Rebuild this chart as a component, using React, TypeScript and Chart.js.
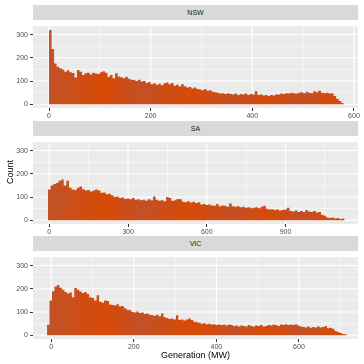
import React, { useEffect, useRef } from 'react';
import { Chart, registerables } from 'chart.js';

Chart.register(...registerables);

// ---------- data ----------
const PANEL_NAMES = ['NSW', 'SA', 'VIC'];

const NSW_BIN_START = 0;
const NSW_BIN_WIDTH = 5;
const NSW_COUNTS = [
  320, 238, 175, 162, 155, 150, 140, 146, 138, 135,
  115, 148, 140, 126, 133, 136, 128, 136, 132, 130,
  138, 142, 136, 118, 126, 112, 134, 120, 116, 112,
  118, 110, 106, 104, 100, 106, 98, 100, 92, 96,
  86, 90, 84, 88, 82, 90, 94, 86, 92, 80,
  84, 76, 86, 78, 72, 74, 68, 72, 66, 64,
  60, 66, 58, 60, 54, 52, 50, 46, 48, 44,
  48, 44, 42, 46, 40, 44, 42, 46, 40, 44,
  42, 56, 40, 42, 38, 40, 36, 40, 38, 42,
  42, 46, 44, 48, 46, 50, 48, 46, 50, 52,
  48, 54, 50, 48, 56, 52, 58, 50, 48, 50,
  46, 48, 36, 24, 14, 6,
];

const SA_BIN_START = -5;
const SA_BIN_WIDTH = 10;
const SA_COUNTS = [
  132, 150, 156, 160, 170, 176, 150, 170, 140, 132,
  130, 140, 145, 134, 128, 130, 124, 128, 132, 128,
  118, 120, 112, 114, 108, 100, 102, 96, 98, 92,
  94, 90, 96, 88, 90, 86, 88, 84, 90, 86,
  102, 88, 84, 86, 82, 100, 96, 84, 86, 92,
  90, 80, 78, 82, 76, 80, 74, 78, 68, 70,
  66, 68, 64, 62, 70, 60, 64, 62, 58, 72,
  60, 58, 60, 56, 58, 54, 56, 52, 54, 56,
  52, 58, 62, 50, 46, 48, 44, 46, 42, 44,
  46, 54, 40, 38, 42, 36, 40, 36, 44, 38,
  36, 40, 34, 36, 24, 20, 12, 10, 12, 8,
  10, 6, 8,
];

const VIC_BIN_START = -10;
const VIC_BIN_WIDTH = 6;
const VIC_COUNTS = [
  45, 150, 190, 210, 216, 205, 196, 186, 180, 184,
  164, 204, 196, 188, 182, 186, 178, 164, 160, 150,
  172, 144, 140, 150, 148, 132, 130, 128, 134, 124,
  126, 116, 110, 108, 100, 98, 102, 96, 98, 92,
  94, 88, 86, 84, 88, 82, 94, 78, 74, 70,
  72, 68, 86, 66, 68, 64, 68, 72, 66, 58,
  56, 54, 50, 52, 48, 50, 46, 48, 44, 46,
  44, 46, 42, 46, 44, 40, 42, 38, 42, 40,
  38, 44, 40, 38, 42, 40, 44, 38, 40, 44,
  42, 46, 44, 40, 46, 44, 48, 44, 46, 44,
  48, 42, 38, 36, 34, 38, 32, 36, 34, 38,
  34, 36, 40, 30, 32, 28, 18, 14, 10, 6,
  4,
];

const Y_TICKS = [0, 100, 200, 300];
const Y_MINOR = [50, 150, 250];
const NSW_X_TICKS = [0, 200, 400, 600];
const NSW_X_MINOR = [100, 300, 500];
const SA_X_TICKS = [0, 300, 600, 900];
const SA_X_MINOR = [150, 450, 750, 1050];
const VIC_X_TICKS = [0, 200, 400, 600];
const VIC_X_MINOR = [100, 300, 500, 700];

const X_TITLE = 'Generation (MW)';
const Y_TITLE = 'Count';

// ---------- styling ----------
const FONT = '"Liberation Sans", Arial, Helvetica, sans-serif';
const PANEL_LEFT = 33;
const PANEL_RIGHT = 358;
const PANEL_H = 88;
const STRIP_H = 15;
const X_AXIS_H = 14;

const PANELS = [
  { name: PANEL_NAMES[0], start: NSW_BIN_START, width: NSW_BIN_WIDTH, counts: NSW_COUNTS, xMin: -31.5, xMax: 608, major: NSW_X_TICKS, minor: NSW_X_MINOR, top: 20 },
  { name: PANEL_NAMES[1], start: SA_BIN_START, width: SA_BIN_WIDTH, counts: SA_COUNTS, xMin: -62, xMax: 1176, major: SA_X_TICKS, minor: SA_X_MINOR, top: 135.5 },
  { name: PANEL_NAMES[2], start: VIC_BIN_START, width: VIC_BIN_WIDTH, counts: VIC_COUNTS, xMin: -44, xMax: 743, major: VIC_X_TICKS, minor: VIC_X_MINOR, top: 251 },
];

const GRAD_STOPS: [number, string][] = [
  [0, '#C2512A'],
  [45, '#C05229'],
  [105, '#D84A06'],
  [140, '#C25027'],
  [190, '#D84A06'],
  [235, '#C34F25'],
  [267, '#D74A08'],
  [300, '#C34F25'],
  [335, '#D64A09'],
  [364, '#C64E22'],
];

const gridPlugin = {
  id: 'panelGrid',
  beforeDatasetsDraw(chart: any, _args: any, opts: any) {
    const { ctx, chartArea } = chart;
    const { left, right, top, bottom } = chartArea;
    const xs = chart.scales.x;
    const ys = chart.scales.y;
    ctx.save();
    ctx.fillStyle = '#EBEBEB';
    ctx.fillRect(left, top, right - left, bottom - top);
    ctx.strokeStyle = '#FFFFFF';
    const vline = (v: number, w: number) => {
      const p = xs.getPixelForValue(v);
      if (p < left || p > right) return;
      ctx.lineWidth = w;
      ctx.beginPath();
      ctx.moveTo(p, top);
      ctx.lineTo(p, bottom);
      ctx.stroke();
    };
    const hline = (v: number, w: number) => {
      const p = ys.getPixelForValue(v);
      if (p < top || p > bottom) return;
      ctx.lineWidth = w;
      ctx.beginPath();
      ctx.moveTo(left, p);
      ctx.lineTo(right, p);
      ctx.stroke();
    };
    (opts.yMinor || []).forEach((v: number) => hline(v, 0.55));
    (opts.xMinor || []).forEach((v: number) => vline(v, 0.55));
    (opts.yMajor || []).forEach((v: number) => hline(v, 1.1));
    (opts.xMajor || []).forEach((v: number) => vline(v, 1.1));
    ctx.restore();
  },
};

function Panel({ p }: { p: typeof PANELS[number] }) {
  const ref = useRef<HTMLCanvasElement | null>(null);
  useEffect(() => {
    if (!ref.current) return;
    // histogram as a step outline: each bin spans [left edge, right edge) at its count
    const data = p.counts.map((c, i) => ({ x: p.start + p.width * i, y: c }));
    data.push({ x: p.start + p.width * p.counts.length, y: 0 });
    let grad: any = null;
    const chart = new Chart(ref.current, {
      type: 'line',
      data: {
        datasets: [
          {
            data,
            stepped: 'before',
            fill: 'origin',
            backgroundColor: (c: any) => {
              if (!grad) {
                const g = c.chart.ctx.createLinearGradient(0, 0, 364, 0);
                GRAD_STOPS.forEach(([x, col]) => g.addColorStop(x / 364, col));
                grad = g;
              }
              return grad;
            },
            borderWidth: 0,
            pointRadius: 0,
            tension: 0,
          } as any,
        ],
      },
      options: {
        responsive: false,
        animation: false,
        devicePixelRatio: 1,
        layout: { padding: { left: 0, right: 364 - PANEL_RIGHT, top: 0, bottom: 0 } },
        plugins: {
          legend: { display: false },
          tooltip: { enabled: false },
          panelGrid: { xMajor: p.major, xMinor: p.minor, yMajor: Y_TICKS, yMinor: Y_MINOR },
        } as any,
        scales: {
          x: {
            type: 'linear',
            min: p.xMin,
            max: p.xMax,
            offset: false,
            afterBuildTicks: (s: any) => {
              s.ticks = p.major.map((v) => ({ value: v }));
            },
            afterFit: (s: any) => {
              s.height = X_AXIS_H;
            },
            grid: { offset: false, drawOnChartArea: false, drawTicks: true, tickLength: 3, tickColor: '#333333', tickWidth: 1 },
            border: { display: false },
            ticks: { color: '#4D4D4D', font: { size: 7, family: FONT }, padding: 1, maxRotation: 0, autoSkip: false },
          },
          y: {
            type: 'linear',
            min: -16,
            max: 336,
            afterBuildTicks: (s: any) => {
              s.ticks = Y_TICKS.map((v) => ({ value: v }));
            },
            afterFit: (s: any) => {
              s.width = PANEL_LEFT;
            },
            grid: { drawOnChartArea: false, drawTicks: true, tickLength: 3, tickColor: '#333333', tickWidth: 1 },
            border: { display: false },
            ticks: { color: '#4D4D4D', font: { size: 7, family: FONT }, padding: 2, autoSkip: false },
          },
        },
      } as any,
      plugins: [gridPlugin],
    });
    return () => chart.destroy();
  }, [p]);
  return (
    <>
      <div
        style={{
          position: 'absolute',
          left: PANEL_LEFT,
          top: p.top - STRIP_H,
          width: PANEL_RIGHT - PANEL_LEFT,
          height: STRIP_H,
          background: '#D9D9D9',
          color: '#1A1A1A',
          fontFamily: FONT,
          fontSize: 7,
          lineHeight: STRIP_H + 'px',
          textAlign: 'center',
        }}
      >
        {p.name}
      </div>
      <canvas
        ref={ref}
        width={364}
        height={PANEL_H + X_AXIS_H}
        style={{ position: 'absolute', left: 0, top: p.top, width: 364, height: PANEL_H + X_AXIS_H }}
      />
    </>
  );
}

export default function App() {
  return (
    <div style={{ position: 'absolute', left: 0, top: 0, width: 364, height: 364, background: '#FFFFFF', overflow: 'hidden' }}>
      {PANELS.map((p) => (
        <Panel key={p.name} p={p} />
      ))}
      <div
        style={{
          position: 'absolute',
          left: 10,
          top: 172,
          transform: 'translate(-50%, -50%) rotate(-90deg)',
          fontFamily: FONT,
          fontSize: 9,
          color: '#000000',
          whiteSpace: 'nowrap',
        }}
      >
        {Y_TITLE}
      </div>
      <div
        style={{
          position: 'absolute',
          left: 195.5,
          top: 354.5,
          transform: 'translate(-50%, -50%)',
          fontFamily: FONT,
          fontSize: 9,
          color: '#000000',
          whiteSpace: 'nowrap',
        }}
      >
        {X_TITLE}
      </div>
    </div>
  );
}
